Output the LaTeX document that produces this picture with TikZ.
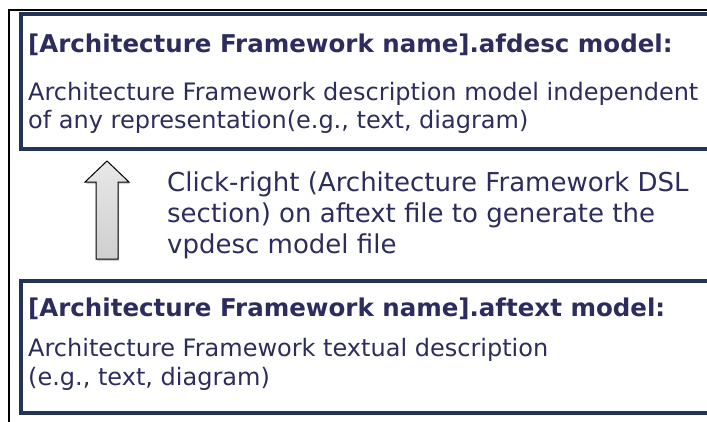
\documentclass[tikz,border=0pt]{standalone}
\usepackage{fontspec}
\setmainfont{DejaVu Sans}
\usepackage{tikz}
\usetikzlibrary{shadows}
\definecolor{txtnavy}{RGB}{44,45,94}
\definecolor{boxnavy}{RGB}{36,52,88}

\begin{document}
\begin{tikzpicture}[x=1pt,y=-1pt,
  modelbox/.style={draw=boxnavy, line width=3.2pt, fill=white},
  headtext/.style={anchor=base west, inner sep=0pt, text=txtnavy, font=\fontsize{24.5}{28}\selectfont\bfseries},
  bodytext/.style={anchor=base west, inner sep=0pt, text=txtnavy, font=\fontsize{24}{28}\selectfont},
  steptext/.style={anchor=base west, inner sep=0pt, text=txtnavy, font=\fontsize{26}{31}\selectfont}]
 \clip (0,0) rectangle (707,421);
 \fill[white] (0,0) rectangle (707,421);
 \draw[black, line width=1.5pt] (9,440) -- (9,10) -- (720,10);
 % the two model boxes
 \draw[modelbox] (21,14) rectangle (720,149);
 \draw[modelbox] (21,281) rectangle (720,413);
 \begin{scope}
   \node (afdesc)  [headtext] at (28,52)  {[Architecture Framework name].afdesc model:};
   \node (descl1)  [bodytext] at (28,100) {Architecture Framework description model independent};
   \node (descl2)  [bodytext] at (28,128) {of any representation(e.g., text, diagram)};
   \node (step1)   [steptext] at (167,191) {Click-right (Architecture Framework DSL};
   \node (step2)   [steptext] at (167,222) {section) on aftext file to generate the};
   \node (step3)   [steptext] at (167,253) {vpdesc model file};
   \node (aftext)  [headtext] at (28,316) {[Architecture Framework name].aftext model:};
   \node (textl1)  [bodytext] at (28,356) {Architecture Framework textual description};
   \node (textl2)  [bodytext] at (28,385) {(e.g., text, diagram)};
 \end{scope}
 % generate arrow
 \draw[black, line width=1pt, top color=gray!18, bottom color=gray!38,
       drop shadow={opacity=0.35, shadow xshift=1pt, shadow yshift=-2pt}]
   (96,259) -- (96,182) -- (85,182) -- (107,161) -- (129,182) -- (118,182) -- (118,259) -- cycle;
\end{tikzpicture}
\end{document}
